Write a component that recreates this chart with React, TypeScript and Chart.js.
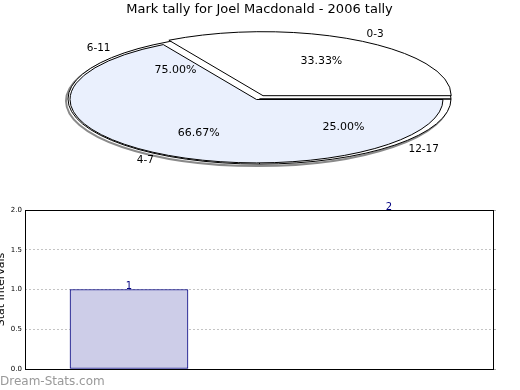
import React, { useEffect, useRef } from 'react';
import { Chart, registerables } from 'chart.js';

Chart.register(...registerables);

// ---- data ----
const titleText = 'Mark tally for Joel Macdonald - 2006 tally';
const frontLabels = ['4-7', '0-3'];
const frontValues = [2, 1];
const backLabels = ['12-17', '6-11'];
const backValues = [1, 3];
const barX = [0, 1];
const barValues = [1, 2];
const yTitle = 'Stat Intervals';
const watermark = 'Dream-Stats.com';

const FONT = '"DejaVu Sans", Verdana, sans-serif';
const K = 0.34;

function geom(a: any) {
  const p = a.getProps(['x', 'y', 'startAngle', 'endAngle', 'outerRadius', 'circumference'], true);
  const t = (a.options.offset || 0) / 4;
  const half = (p.startAngle + p.endAngle) / 2;
  const fix = 1 - Math.sin(Math.min(Math.PI, p.circumference || 0));
  return {
    ...p,
    half,
    ox: p.x + Math.cos(half) * t,
    oy: p.y + Math.sin(half) * t,
    r: p.outerRadius + t * fix,
  };
}

function drawPieLabels(ctx: CanvasRenderingContext2D, chart: any, targetY: number) {
  const arcs = chart.getDatasetMeta(0).data;
  const vals = chart.data.datasets[0].data as number[];
  const total = vals.reduce((s, v) => s + v, 0);
  const labels = chart.data.labels as string[];
  ctx.save();
  ctx.fillStyle = '#000';
  arcs.forEach((a: any, i: number) => {
    const g = geom(a);
    const c = Math.cos(g.half);
    const s = Math.sin(g.half);
    const pt = (f: number) => ({
      x: g.ox + c * g.r * f,
      y: targetY + (g.oy - g.y + s * g.r * f) * K,
    });
    const n = pt(1.1);
    ctx.font = `10.5px ${FONT}`;
    ctx.textBaseline = 'middle';
    ctx.textAlign = c >= 0 ? 'left' : 'right';
    ctx.fillText(labels[i], n.x, n.y);
    const q = pt(0.62);
    ctx.font = `11px ${FONT}`;
    ctx.textAlign = 'center';
    ctx.fillText(((vals[i] / total) * 100).toFixed(2) + '%', q.x, q.y);
  });
  ctx.restore();
}

function makePiePlugin(id: string, targetY: number, shadow: boolean, extra?: () => { chart: any; y: number } | null) {
  const transform = (ctx: CanvasRenderingContext2D, cy: number) => {
    ctx.translate(0, targetY);
    ctx.scale(1, K);
    ctx.translate(0, -cy);
  };
  return {
    id,
    beforeDatasetsDraw(chart: any) {
      const ctx = chart.ctx as CanvasRenderingContext2D;
      const arcs = chart.getDatasetMeta(0).data;
      const g = geom(arcs[0]);
      if (shadow) {
        ctx.save();
        ctx.beginPath();
        ctx.save();
        ctx.translate(g.x - 2, targetY + 2);
        ctx.scale(1, K);
        ctx.arc(0, 0, g.outerRadius, 0, Math.PI * 2);
        ctx.restore();
        ctx.strokeStyle = '#8a8a8a';
        ctx.lineWidth = 2;
        ctx.stroke();
        ctx.restore();
      }
      ctx.save();
      transform(ctx, g.y);
    },
    afterDatasetsDraw(chart: any) {
      const ctx = chart.ctx as CanvasRenderingContext2D;
      ctx.restore();
      const arcs = chart.getDatasetMeta(0).data;
      arcs.forEach((a: any) => {
        const g = geom(a);
        ctx.save();
        ctx.beginPath();
        ctx.save();
        transform(ctx, g.y);
        ctx.moveTo(g.ox, g.oy);
        ctx.arc(g.ox, g.oy, g.r, g.startAngle, g.endAngle);
        ctx.closePath();
        ctx.restore();
        ctx.strokeStyle = '#000';
        ctx.lineWidth = 1;
        ctx.stroke();
        ctx.restore();
      });
    },
    afterDraw(chart: any) {
      const ctx = chart.ctx as CanvasRenderingContext2D;
      if (extra) {
        const e = extra();
        if (e) drawPieLabels(ctx, e.chart, e.y);
      }
      drawPieLabels(ctx, chart, targetY);
    },
  };
}

const framePlugin = {
  id: 'frame',
  afterDraw(chart: any) {
    const { ctx, chartArea } = chart;
    ctx.save();
    ctx.strokeStyle = '#000';
    ctx.lineWidth = 1;
    ctx.strokeRect(
      Math.round(chartArea.left) + 0.5,
      Math.round(chartArea.top) + 0.5,
      Math.round(chartArea.right - chartArea.left),
      Math.round(chartArea.bottom - chartArea.top)
    );
    const meta = chart.getDatasetMeta(0);
    ctx.font = `10px ${FONT}`;
    ctx.fillStyle = '#000080';
    ctx.textAlign = 'center';
    ctx.textBaseline = 'bottom';
    meta.data.forEach((el: any, i: number) => {
      const v = chart.data.datasets[0].data[i].y;
      ctx.fillText(String(v), el.x, el.y + 2);
    });
    ctx.font = `12px ${FONT}`;
    ctx.fillStyle = '#999';
    ctx.textAlign = 'left';
    ctx.textBaseline = 'alphabetic';
    ctx.fillText(watermark, 8, 189.5);
    ctx.restore();
  },
};

export default function App() {
  const backRef = useRef<HTMLCanvasElement>(null);
  const frontRef = useRef<HTMLCanvasElement>(null);
  const barRef = useRef<HTMLCanvasElement>(null);

  useEffect(() => {
    const BACK_Y = 99;
    const back = new Chart(backRef.current!, {
      type: 'pie',
      data: {
        labels: backLabels,
        datasets: [
          {
            data: backValues,
            backgroundColor: ['#ffffff', '#ffffff'],
            borderWidth: 0,
            radius: 191.5,
            clip: false,
          } as any,
        ],
      },
      options: {
        animation: false,
        responsive: false,
        rotation: 90,
        layout: { padding: { left: 0, right: 1, top: 0, bottom: 0 } },
        plugins: {
          legend: { display: false },
          tooltip: { enabled: false },
          title: {
            display: true,
            text: titleText,
            color: '#000',
            font: { family: FONT, size: 13, weight: 'normal' },
            padding: { top: 2, bottom: 0 },
          },
        },
      },
      plugins: [
        {
          ...makePiePlugin('backEllipse', BACK_Y, true),
          afterDraw: undefined,
        } as any,
      ],
    });

    const front = new Chart(frontRef.current!, {
      type: 'pie',
      data: {
        labels: frontLabels,
        datasets: [
          {
            data: frontValues,
            backgroundColor: ['#eaf0fd', '#ffffff'],
            borderWidth: 0,
            offset: [0, 52],
            radius: 186.5,
            clip: false,
          } as any,
        ],
      },
      options: {
        animation: false,
        responsive: false,
        rotation: 90,
        layout: { padding: { left: 0, right: 7, top: 0, bottom: 0 } },
        plugins: { legend: { display: false }, tooltip: { enabled: false } },
      },
      plugins: [makePiePlugin('frontEllipse', 99.5, false, () => ({ chart: back, y: BACK_Y }))],
    });

    const bar = new Chart(barRef.current!, {
      type: 'bar',
      data: {
        datasets: [
          {
            data: barX.map((x, i) => ({ x, y: barValues[i] })),
            backgroundColor: ['#cdcde8', 'rgba(0,0,0,0)'],
            borderColor: ['#000080', 'rgba(0,0,0,0)'],
            borderWidth: 1,
            borderSkipped: false,
            barThickness: 118,
          } as any,
        ],
      },
      options: {
        animation: false,
        responsive: false,
        layout: { padding: { top: 15, bottom: 21, left: 0, right: 24 } },
        plugins: { legend: { display: false }, tooltip: { enabled: false } },
        scales: {
          x: { type: 'linear', min: -0.4, max: 1.4, display: false, offset: false },
          y: {
            position: 'left',
            min: 0,
            max: 2,
            afterFit: (s: any) => {
              s.width = 33;
            },
            ticks: {
              stepSize: 0.5,
              padding: 3,
              color: '#000',
              font: { family: FONT, size: 7 },
              callback: (v: any) => Number(v).toFixed(1),
            },
            grid: { color: '#c4c4c4', drawTicks: false, lineWidth: 1 },
            border: { display: false, dash: [2, 2] },
            title: {
              display: true,
              text: yTitle,
              color: '#000',
              font: { family: FONT, size: 11 },
              padding: { top: 3, bottom: 4 },
            },
          },
          y2: {
            position: 'right',
            min: 0,
            max: 2,
            afterFit: (s: any) => {
              s.width = 3;
            },
            ticks: { stepSize: 0.5, display: false },
            grid: { drawOnChartArea: false, drawTicks: true, tickLength: 3, tickColor: '#b0b0b0' },
            border: { display: false },
          },
        } as any,
      },
      plugins: [framePlugin],
    });

    return () => {
      front.destroy();
      back.destroy();
      bar.destroy();
    };
  }, []);

  return (
    <div
      style={{
        position: 'absolute',
        left: 0,
        top: 0,
        width: 520,
        height: 390,
        overflow: 'hidden',
        background: '#fff',
      }}
    >
      <canvas
        ref={barRef}
        width={528}
        height={195}
        style={{ position: 'absolute', left: -8, top: 195, width: 528, height: 195 }}
      />
      <canvas
        ref={backRef}
        width={520}
        height={390}
        style={{ position: 'absolute', left: 0, top: 0, width: 520, height: 390 }}
      />
      <canvas
        ref={frontRef}
        width={520}
        height={390}
        style={{ position: 'absolute', left: 0, top: 0, width: 520, height: 390 }}
      />
    </div>
  );
}
